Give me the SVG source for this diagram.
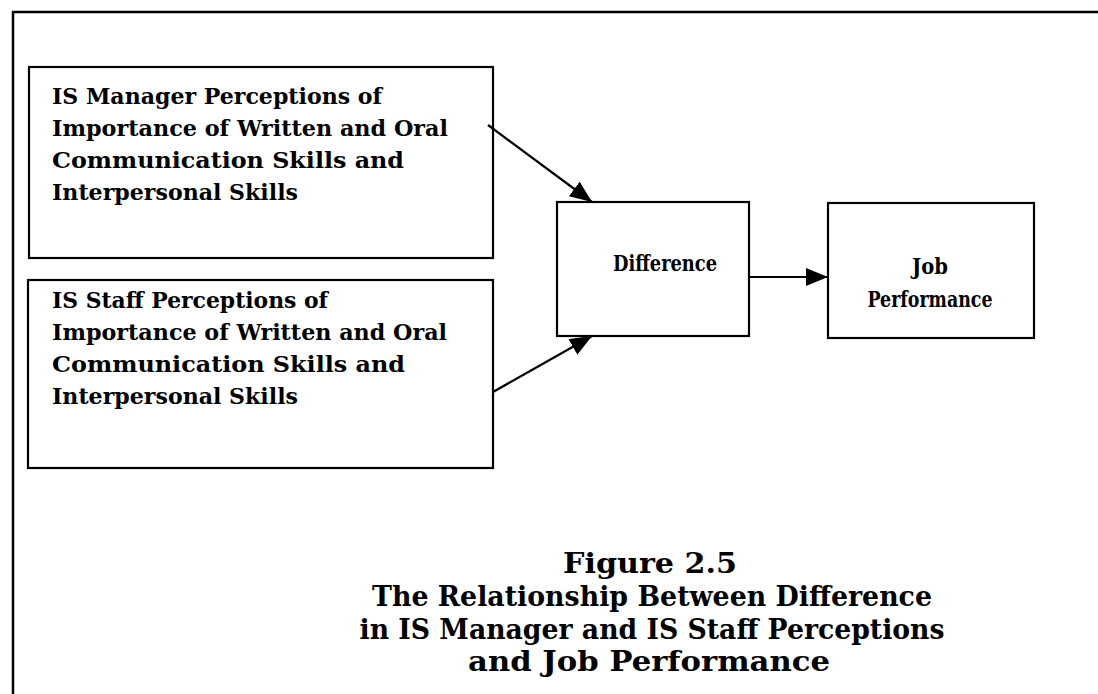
<svg xmlns="http://www.w3.org/2000/svg" width="1098" height="694" viewBox="0 0 1098 694">
<style>
.box{fill:#fff;stroke:#000;stroke-width:2.2}
.frame{stroke:#000;stroke-width:2.5;fill:none}
.t{font-family:"DejaVu Serif","Liberation Serif",serif;font-weight:bold;font-size:21.5px;fill:#000}
.c{font-family:"DejaVu Serif","Liberation Serif",serif;font-weight:bold;font-size:27px;fill:#000;text-anchor:middle}
.m{text-anchor:middle}
.conn{stroke:#000;stroke-width:2.2;fill:none}
</style>
<defs>
<marker id="ah" markerUnits="userSpaceOnUse" markerWidth="24" markerHeight="20" refX="22" refY="9" orient="auto">
<path d="M0,0 L22,9 L0,18 Z" fill="#000"/>
</marker>
</defs>
<rect width="1098" height="694" fill="#fff"/>
<path class="frame" d="M1098,12 L13,12 L13,694"/>
<g id="node-manager">
<rect class="box" x="29" y="67" width="464" height="191"/>
<text class="t" x="52" y="104" textLength="330" lengthAdjust="spacingAndGlyphs">IS Manager Perceptions of</text>
<text class="t" x="52" y="136" textLength="396" lengthAdjust="spacingAndGlyphs">Importance of Written and Oral</text>
<text class="t" x="52" y="168" textLength="352" lengthAdjust="spacingAndGlyphs">Communication Skills and</text>
<text class="t" x="52" y="200" textLength="246" lengthAdjust="spacingAndGlyphs">Interpersonal Skills</text>
</g>
<g id="node-staff">
<rect class="box" x="28" y="280" width="465" height="188"/>
<text class="t" x="52" y="308" textLength="276" lengthAdjust="spacingAndGlyphs">IS Staff Perceptions of</text>
<text class="t" x="52" y="340" textLength="395" lengthAdjust="spacingAndGlyphs">Importance of Written and Oral</text>
<text class="t" x="52" y="372" textLength="353" lengthAdjust="spacingAndGlyphs">Communication Skills and</text>
<text class="t" x="52" y="404" textLength="246" lengthAdjust="spacingAndGlyphs">Interpersonal Skills</text>
</g>
<g id="node-difference">
<rect class="box" x="557" y="202" width="192" height="134"/>
<text class="t m" x="665" y="271" textLength="104" lengthAdjust="spacingAndGlyphs">Difference</text>
</g>
<g id="node-job">
<rect class="box" x="828" y="203" width="206" height="135"/>
<text class="t m" x="930" y="274" textLength="36" lengthAdjust="spacingAndGlyphs">Job</text>
<text class="t m" x="930" y="307" textLength="125" lengthAdjust="spacingAndGlyphs">Performance</text>
</g>
<g id="connectors">
<path class="conn" d="M488,125 L592,202" marker-end="url(#ah)"/>
<path class="conn" d="M493,392 L592,336" marker-end="url(#ah)"/>
<path class="conn" d="M749,277 L828,277" marker-end="url(#ah)"/>
</g>
<g id="caption">
<text class="c" x="650" y="573" textLength="174" lengthAdjust="spacingAndGlyphs">Figure 2.5</text>
<text class="c" x="652" y="606" textLength="560" lengthAdjust="spacingAndGlyphs">The Relationship Between Difference</text>
<text class="c" x="652" y="639" textLength="585" lengthAdjust="spacingAndGlyphs">in IS Manager and IS Staff Perceptions</text>
<text class="c" x="649" y="671" textLength="362" lengthAdjust="spacingAndGlyphs">and Job Performance</text>
</g>
</svg>
